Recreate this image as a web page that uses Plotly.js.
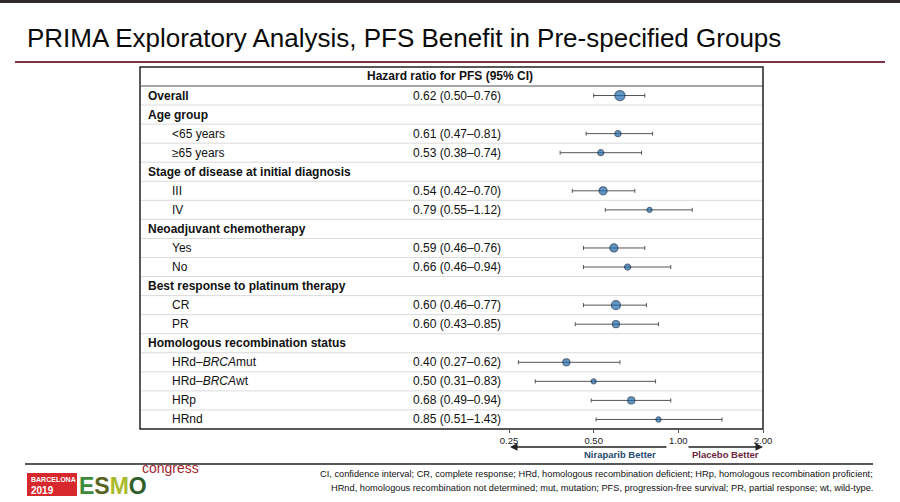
<!DOCTYPE html>
<html>
<head>
<meta charset="utf-8">
<script src="https://cdn.plot.ly/plotly-3.0.1.min.js"></script>
<style>html,body{margin:0;padding:0;background:#fff;}#chart{width:900px;height:502px;}</style>
</head>
<body>
<div id="chart"></div>
<script>
// ---- data ----
var rowLabels = ["Overall","Age group","<65 years","≥65 years","Stage of disease at initial diagnosis","III","IV",
  "Neoadjuvant chemotherapy","Yes","No","Best response to platinum therapy","CR","PR",
  "Homologous recombination status","HRd–<i>BRCA</i>mut","HRd–<i>BRCA</i>wt","HRp","HRnd"];
var isGroup = [1,1,0,0,1,0,0,1,0,0,1,0,0,1,0,0,0,0];
var hr = [0.62,null,0.61,0.53,null,0.54,0.79,null,0.59,0.66,null,0.60,0.60,null,0.40,0.50,0.68,0.85];
var lo = [0.50,null,0.47,0.38,null,0.42,0.55,null,0.46,0.46,null,0.46,0.43,null,0.27,0.31,0.49,0.51];
var hi = [0.76,null,0.81,0.74,null,0.70,1.12,null,0.76,0.94,null,0.77,0.85,null,0.62,0.83,0.94,1.43];
var tickVals = [0.25,0.5,1,2];
var tickText = ["0.25","0.50","1.00","2.00"];
var headerText = "Hazard ratio for PFS (95% CI)";
var titleText = "PRIMA Exploratory Analysis, PFS Benefit in Pre-specified Groups";
var footLines = ["CI, confidence interval; CR, complete response; HRd, homologous recombination deficient; HRp, homologous recombination proficient;",
  "HRnd, homologous recombination not determined; mut, mutation; PFS, progression-free survival; PR, partial response; wt, wild-type."];
// ---- style ----
var markerSizes = [10,0,6,6,0,8,5,0,8,6,0,9,7,0,7,5,7,5];

var W=900,H=502,L=509,R=137,T=86,B=73;
var pw=W-L-R, ph=H-T-B;
function px(x){return (x-L)/pw;}
function py(y){return (H-B-y)/ph;}
var F="Arial, 'Liberation Sans', sans-serif";

var xs=[],ys=[],ep=[],em=[],sz=[];
for(var i=0;i<rowLabels.length;i++){
  if(hr[i]!==null){xs.push(hr[i]);ys.push(rowLabels[i]);ep.push(+(hi[i]-hr[i]).toFixed(3));em.push(+(hr[i]-lo[i]).toFixed(3));sz.push(markerSizes[i]);}
}
var traces=[
 {type:'scatter',mode:'markers',x:rowLabels.map(function(){return 1;}),y:rowLabels,marker:{opacity:0},hoverinfo:'skip',showlegend:false},
 {type:'scatter',mode:'markers',x:xs,y:ys,showlegend:false,
  marker:{size:sz,color:'#1f6cb0',line:{color:'#0f2e50',width:1.2}},
  error_x:{type:'data',symmetric:false,array:ep,arrayminus:em,color:'#555',thickness:1,width:2}}
];

var shapes=[], ann=[];
shapes.push({type:'rect',xref:'paper',yref:'paper',x0:px(0),x1:px(900),y0:py(0),y1:py(3),fillcolor:'#2e2a2b',line:{width:0}});
shapes.push({type:'line',xref:'paper',yref:'paper',x0:px(15),x1:px(885),y0:py(62),y1:py(62),line:{color:'#7d3343',width:2}});
shapes.push({type:'rect',xref:'x',yref:'paper',x0:Math.log10(lo[0]),x1:Math.log10(hi[0]),y0:0,y1:1,fillcolor:'#e1f4fb',line:{width:0},layer:'below'});
for(var i=0;i<rowLabels.length-1;i++){
  shapes.push({type:'line',xref:'paper',yref:'y',x0:px(141),x1:1,y0:i+0.5,y1:i+0.5,line:{color:'#dadada',width:1},layer:'below'});
}
shapes.push({type:'line',xref:'paper',yref:'paper',x0:px(141),x1:1,y0:1,y1:1,line:{color:'#8a8a8a',width:1.5}});
shapes.push({type:'line',xref:'x',yref:'paper',x0:0,x1:0,y0:0,y1:1,line:{color:'#444',width:1,dash:'dot'}});
shapes.push({type:'rect',xref:'paper',yref:'paper',x0:px(140),x1:1,y0:0,y1:py(67),line:{color:'#222',width:1.5}});
shapes.push({type:'line',xref:'paper',yref:'paper',x0:px(25),x1:px(873),y0:py(464),y1:py(464),line:{color:'#222',width:1.5}});
shapes.push({type:'rect',xref:'paper',yref:'paper',x0:px(27),x1:px(77),y0:py(496),y1:py(473),fillcolor:'#d7282d',line:{width:0}});

ann.push({xref:'paper',yref:'paper',x:px(450),y:py(76),text:'<b>'+headerText+'</b>',showarrow:false,xanchor:'center',yanchor:'middle',font:{family:F,size:12,color:'#111'}});
for(var i=0;i<rowLabels.length;i++){
  ann.push({xref:'paper',yref:'y',x:px(isGroup[i]?146:170),y:rowLabels[i],text:isGroup[i]?'<b>'+rowLabels[i]+'</b>':rowLabels[i],
    showarrow:false,xanchor:'left',yanchor:'middle',font:{family:F,size:12,color:'#111'}});
  if(hr[i]!==null){
    ann.push({xref:'paper',yref:'y',x:px(457),y:rowLabels[i],text:hr[i].toFixed(2)+' ('+lo[i].toFixed(2)+'–'+hi[i].toFixed(2)+')',
      showarrow:false,xanchor:'center',yanchor:'middle',font:{family:F,size:12,color:'#111'}});
  }
}
ann.push({xref:'paper',yref:'paper',x:px(510),y:py(447),ax:158,ay:0,text:'',showarrow:true,arrowhead:2,arrowsize:1,arrowwidth:1.5,arrowcolor:'#222'});
ann.push({xref:'paper',yref:'paper',x:px(763),y:py(447),ax:-76,ay:0,text:'',showarrow:true,arrowhead:2,arrowsize:1,arrowwidth:1.5,arrowcolor:'#222'});
ann.push({xref:'paper',yref:'paper',x:px(620),y:py(454),text:'<b>Niraparib Better</b>',showarrow:false,xanchor:'center',yanchor:'middle',font:{family:F,size:9.5,color:'#1f4a73'}});
ann.push({xref:'paper',yref:'paper',x:px(725),y:py(454),text:'<b>Placebo Better</b>',showarrow:false,xanchor:'center',yanchor:'middle',font:{family:F,size:9.5,color:'#6b1f3d'}});
ann.push({xref:'paper',yref:'paper',x:px(875),y:py(474),text:footLines[0],showarrow:false,xanchor:'right',yanchor:'middle',font:{family:F,size:9.25,color:'#111'}});
ann.push({xref:'paper',yref:'paper',x:px(875),y:py(488),text:footLines[1],showarrow:false,xanchor:'right',yanchor:'middle',font:{family:F,size:9.25,color:'#111'}});
// logo
ann.push({xref:'paper',yref:'paper',x:px(29),y:py(479),text:'<b>BARCELONA</b>',showarrow:false,xanchor:'left',yanchor:'middle',font:{family:F,size:7,color:'#fff'}});
ann.push({xref:'paper',yref:'paper',x:px(29),y:py(490),text:'<b>2019</b>',showarrow:false,xanchor:'left',yanchor:'middle',font:{family:F,size:10,color:'#fff'}});
ann.push({xref:'paper',yref:'paper',x:px(77),y:py(486),text:'<b><span style="color:#3d8a3a">E</span><span style="color:#56641f">S</span><span style="color:#a9bb2c">M</span><span style="color:#2f5e2a">O</span></b>',
  showarrow:false,xanchor:'left',yanchor:'middle',font:{family:F,size:23,color:'#2f5e2a'}});
ann.push({xref:'paper',yref:'paper',x:px(140),y:py(468),text:'congress',showarrow:false,xanchor:'left',yanchor:'middle',font:{family:F,size:14,color:'#a3262e'}});

var layout={
  width:W,height:H,margin:{l:L,r:R,t:T,b:B},paper_bgcolor:'#ffffff',plot_bgcolor:'rgba(0,0,0,0)',
  title:{text:titleText,x:27/W,xanchor:'left',y:1-38/H,yanchor:'middle',xref:'container',yref:'container',font:{family:F,size:26,color:'#0a0a0a'}},
  xaxis:{type:'log',range:[Math.log10(0.25),Math.log10(2)],tickvals:tickVals,ticktext:tickText,ticks:'outside',ticklen:3,tickcolor:'#555',
    tickfont:{family:F,size:9.5,color:'#222'},showgrid:false,zeroline:false,showline:false,fixedrange:true},
  yaxis:{type:'category',categoryorder:'array',categoryarray:rowLabels,range:[rowLabels.length-0.5,-0.5],showticklabels:false,showgrid:false,zeroline:false,showline:false,ticks:''},
  shapes:shapes,annotations:ann,showlegend:false
};
Plotly.newPlot('chart',traces,layout,{staticPlot:true,displayModeBar:false});
</script>
</body>
</html>
